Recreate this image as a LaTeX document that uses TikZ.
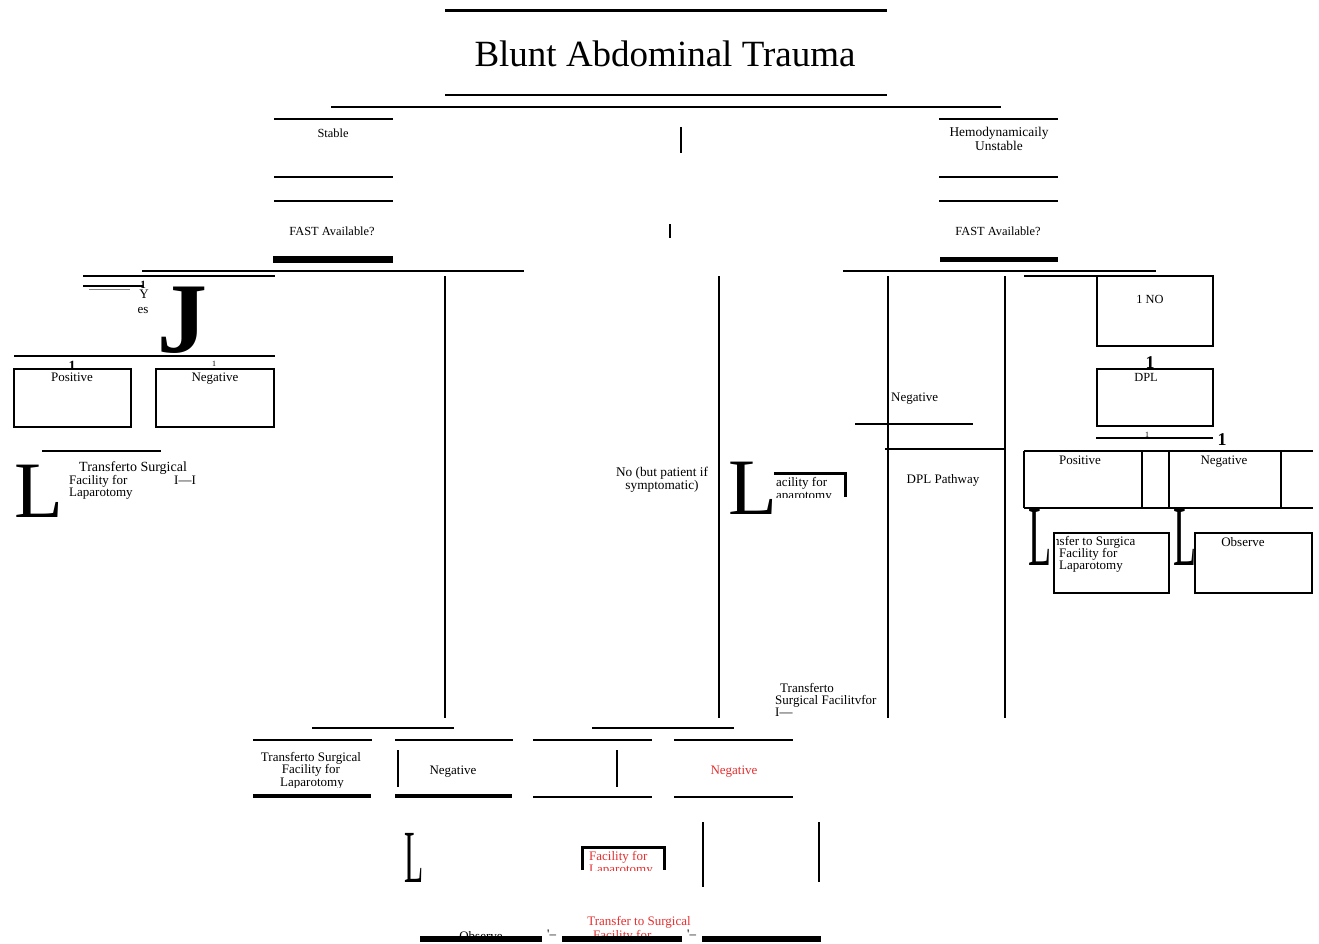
\documentclass[tikz,border=0pt]{standalone}
\usepackage{fontspec}
\setmainfont{Liberation Serif}
\definecolor{redtxt}{RGB}{228,48,48}
\newcommand\smf{\fontsize{13}{13.5}\selectfont}
\newcommand\smg{\fontsize{12.4}{13}\selectfont}
\begin{document}
\begin{tikzpicture}[x=1pt,y=-1pt,
  ln/.style={line width=1.8pt},
  txt/.style={font=\smf, inner sep=0pt, anchor=base},
  txl/.style={font=\smf, inner sep=0pt, anchor=base west},
  txg/.style={font=\smg, inner sep=0pt, anchor=base},
  rtxt/.style={txt, text=redtxt},
  rtxl/.style={txl, text=redtxt},
  bone/.style={font=\bfseries\fontsize{14}{14}\selectfont, inner sep=0pt, anchor=base},
  tone/.style={font=\fontsize{8}{8}\selectfont, inner sep=0pt, anchor=base},
  bigL/.style={font=\fontsize{80}{80}\selectfont, inner sep=0pt, anchor=base west},
  thinL/.style={font=\fontsize{86}{86}\selectfont, inner sep=0pt, anchor=base west, xscale=0.44}]
\useasboundingbox (0,0) rectangle (1319,944);
\fill[white] (0,0) rectangle (1319,944);

% ---------- title ----------
\draw[line width=3pt] (445,11) -- (887,11);
\node[font=\fontsize{37}{40}\selectfont, inner sep=0pt, anchor=base] (title) at (665,67) {Blunt Abdominal Trauma};
\draw[ln] (445,95) -- (887,95);
\draw[ln] (331,107) -- (1001,107);

% ---------- stable column ----------
\draw[ln] (274,119) -- (393,119);
\node[txg] (stable) at (333,138) {Stable};
\draw[ln] (274,177) -- (393,177);
\draw[ln] (274,201) -- (393,201);
\node[txg] (fastL) at (332,235) {FAST Available?};
\draw[line width=7pt] (273,259) -- (393,259);

\draw[ln] (681,127) -- (681,153);
\draw[ln] (670,224) -- (670,238);

% ---------- unstable column ----------
\draw[ln] (939,119) -- (1058,119);
\node[txt, font=\fontsize{13.4}{14}\selectfont] (hemo) at (999,137) {Hemodynamicaily};
\node[txt, font=\fontsize{13.4}{14}\selectfont] (unst) at (999,151) {Unstable};
\draw[ln] (939,177) -- (1058,177);
\draw[ln] (939,201) -- (1058,201);
\node[txg] (fastR) at (998,235) {FAST Available?};
\draw[line width=5pt] (940,259) -- (1058,259);

\draw[ln] (142,271) -- (524,271);
\draw[ln] (843,271) -- (1156,271);

% ---------- left "yes" branch ----------
\draw[ln] (83,276) -- (275,276);
\draw[ln] (83,286) -- (143,286);
\draw[gray, line width=0.5pt] (89,289) -- (130,289);
\node[bone, font=\bfseries\fontsize{11}{11}\selectfont] (oneA) at (143,288) {1};
\node[txt] (yY) at (144,298) {Y};
\node[txt] (yes) at (143,313) {es};
\node[font=\bfseries\fontsize{100}{100}\selectfont, inner sep=0pt, anchor=base] (bigJ) at (182,352) {J};

\draw[ln] (14,356) -- (275,356);
\node[bone] (oneB) at (72,370) {1};
\node[tone] (oneC) at (214,366) {1};
\draw[ln] (14,369) rectangle (131,427);
\node[txt] (posL) at (72,381) {Positive};
\draw[ln] (156,369) rectangle (274,427);
\node[txt] (negL) at (215,381) {Negative};

\draw[ln] (42,451) -- (161,451);
\node[bigL] (L1) at (14,517) {L};
\node[txl, font=\fontsize{14}{14}\selectfont] (trA1) at (79,471) {Transferto Surgical};
\node[txl] (trA2) at (69,484) {Facility for};
\node[txl] (trA3) at (174,484) {I---I};
\node[txl] (trA4) at (69,496) {Laparotomy};

% long verticals
\draw[ln] (445,276) -- (445,718);
\draw[ln] (719,276) -- (719,718);

% middle "no" branch
\node[txt, font=\fontsize{13.3}{14}\selectfont] (noA) at (662,476) {No (but patient if};
\node[txt, font=\fontsize{13.3}{14}\selectfont] (noB) at (662,489) {symptomatic)};
\node[bigL] (L2) at (728,514) {L};
\draw[line width=3pt] (774,473) -- (847,473);
\draw[line width=3pt] (845,473) -- (845,497);
\begin{scope}
  \clip (775,474) rectangle (843,497);
  \node[txl] (facM1) at (776,486) {acility for};
  \node[txl] (facM2) at (776,499) {aparotomy};
\end{scope}

% ---------- right branch ----------
\draw[ln] (888,276) -- (888,718);
\draw[ln] (1005,276) -- (1005,718);
\node[txl] (negR) at (891,401) {Negative};
\draw[ln] (855,424) -- (973,424);
\draw[ln] (885,449) -- (1005,449);
\node[txt] (dplp) at (943,483) {DPL Pathway};

\draw[ln] (1024,276) -- (1213,276);
\draw[ln] (1097,276) rectangle (1213,346);
\node[txg] (oneNo) at (1150,303) {1 NO};
\node[bone, font=\bfseries\fontsize{18}{18}\selectfont] (oneD) at (1150,368) {1};
\draw[ln] (1097,369) rectangle (1213,426);
\node[txg] (dpl) at (1146,381) {DPL};
\draw[ln] (1096,438) -- (1213,438);
\node[tone] (oneE) at (1147,437) {1};
\node[bone, font=\bfseries\fontsize{18}{18}\selectfont] (oneF) at (1222,445) {1};

\draw[ln] (1024,451) -- (1313,451);
\draw[ln] (1024,508) -- (1313,508);
\draw[ln] (1024,451) -- (1024,508);
\draw[ln] (1142,451) -- (1142,508);
\draw[ln] (1169,451) -- (1169,508);
\draw[ln] (1281,451) -- (1281,508);
\node[txt] (posR) at (1080,464) {Positive};
\node[txt] (negR2) at (1224,464) {Negative};

\node[thinL] (L3) at (1028,565) {L};
\node[thinL] (L4) at (1173,565) {L};
\draw[ln] (1054,533) rectangle (1169,593);
\begin{scope}
  \clip (1056,530) rectangle (1168,592);
  \node[txl] (trR1) at (1053,545) {nsfer to Surgica};
\end{scope}
\node[txl] (trR2) at (1059,557) {Facility for};
\node[txl] (trR3) at (1059,569) {Laparotomy};
\draw[ln] (1195,533) rectangle (1312,593);
\node[txt] (obsR) at (1243,546) {Observe};

\node[txl] (trS1) at (780,692) {Transferto};
\node[txl] (trS2) at (775,704) {Surgical Facilitvfor};
\node[txl] (trS3) at (775,716) {I---};

% ---------- bottom rows ----------
\draw[ln] (312,728) -- (454,728);
\draw[ln] (592,728) -- (734,728);
\draw[ln] (253,740) -- (372,740);
\draw[ln] (395,740) -- (513,740);
\draw[ln] (533,740) -- (652,740);
\draw[ln] (674,740) -- (793,740);
\begin{scope}
  \clip (250,745) rectangle (375,787);
  \node[txt] (trB1) at (311,761) {Transferto Surgical};
  \node[txt] (trB2) at (311,773) {Facility for};
  \node[txt] (trB3) at (312,786) {Laparotomy};
\end{scope}
\draw[ln] (398,750) -- (398,787);
\node[txt] (negB) at (453,774) {Negative};
\draw[ln] (617,750) -- (617,787);
\node[rtxt] (negBr) at (734,774) {Negative};
\draw[line width=4pt] (253,796) -- (371,796);
\draw[line width=4pt] (395,796) -- (512,796);
\draw[ln] (533,797) -- (652,797);
\draw[ln] (674,797) -- (793,797);

\node[thinL, font=\fontsize{75}{75}\selectfont, xscale=0.95] (L5) at (404,882) {L};
\draw[line width=3pt] (581,847) -- (666,847);
\draw[line width=3pt] (582,847) -- (582,870);
\draw[line width=3pt] (664,847) -- (664,870);
\begin{scope}
  \clip (584,849) rectangle (662,870);
  \node[rtxl] (facB1) at (589,860) {Facility for};
  \node[rtxl] (facB2) at (589,873) {Laparotomy};
\end{scope}
\draw[ln] (703,822) -- (703,887);
\draw[ln] (819,822) -- (819,882);

\node[rtxt] (trC1) at (639,925) {Transfer to Surgical};
\node[rtxl] (trC2) at (593,939) {Facility for};
\node[txt] (obsB) at (481,940) {Observe};
\node[txl] (tk1) at (547,938) {\textquotesingle--};
\node[txl] (tk2) at (687,938) {\textquotesingle--};
\draw[line width=6pt] (420,939) -- (542,939);
\draw[line width=6pt] (562,939) -- (682,939);
\draw[line width=6pt] (702,939) -- (821,939);
\end{tikzpicture}
\end{document}
